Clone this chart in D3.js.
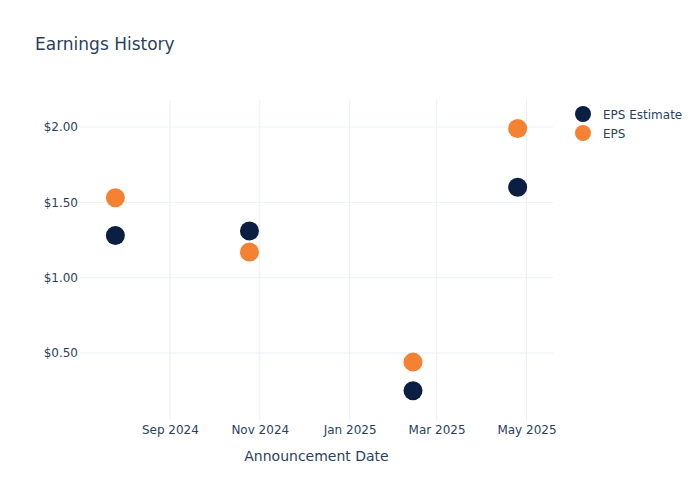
<!DOCTYPE html>
<html>
<head>
<meta charset="utf-8">
<script src="https://cdn.jsdelivr.net/npm/d3@7"></script>
<style>
  body { margin: 0; background: #fff; }
  svg text { font-family: "DejaVu Sans", Verdana, sans-serif; fill: #2a3f5f; }
  .grid line { stroke: #ebf0f8; stroke-width: 1; }
  .axis path, .axis line { display: none; }
</style>
</head>
<body>
<div id="chart"></div>
<script>
// announcement dates and values
var dates = ["2024-07-26", "2024-10-25", "2025-02-13", "2025-04-25"];
var epsEstimate = [1.28, 1.31, 0.25, 1.60];
var epsActual = [1.53, 1.17, 0.44, 1.99];
var seriesNames = ["EPS Estimate", "EPS"];
var seriesColors = ["#0b1f42", "#f58233"];
var yTicks = [0.5, 1.0, 1.5, 2.0];

var parseDate = d3.timeParse("%Y-%m-%d");

var width = 700, height = 500;
var margin = { top: 100, right: 147, bottom: 80, left: 80 };
var innerW = width - margin.left - margin.right,
    innerH = height - margin.top - margin.bottom;

var svg = d3.select("#chart").append("svg")
    .attr("width", width)
    .attr("height", height);

var g = svg.append("g")
    .attr("transform", "translate(" + margin.left + "," + margin.top + ")");

var xScale = d3.scaleTime()
    .domain([parseDate("2024-07-02"), parseDate("2025-05-19")])
    .range([0, innerW]);

var yScale = d3.scaleLinear()
    .domain([0.056, 2.179])
    .range([innerH, 0]);

var xTicks = d3.timeMonth.every(2).range(parseDate("2024-09-01"), parseDate("2025-06-01"));

// grid lines
g.append("g").attr("class", "grid")
    .selectAll("line").data(xTicks).enter()
    .append("line")
    .attr("x1", function(d) { return xScale(d); })
    .attr("x2", function(d) { return xScale(d); })
    .attr("y1", 0)
    .attr("y2", innerH);

g.append("g").attr("class", "grid")
    .selectAll("line").data(yTicks).enter()
    .append("line")
    .attr("x1", 0)
    .attr("x2", innerW)
    .attr("y1", function(d) { return yScale(d); })
    .attr("y2", function(d) { return yScale(d); });

// axes
var xAxis = d3.axisBottom(xScale)
    .tickValues(xTicks)
    .tickSize(0)
    .tickPadding(5)
    .tickFormat(d3.timeFormat("%b %Y"));

var yAxis = d3.axisLeft(yScale)
    .tickValues(yTicks)
    .tickSize(0)
    .tickPadding(2)
    .tickFormat(function(d) { return "$" + d3.format(".2f")(d); });

g.append("g")
    .attr("class", "x-axis axis")
    .attr("transform", "translate(0," + innerH + ")")
    .call(xAxis)
    .selectAll("text")
    .attr("font-size", 12)
    .style("font-family", "DejaVu Sans, sans-serif");

g.append("g")
    .attr("class", "y-axis axis")
    .call(yAxis)
    .selectAll("text")
    .attr("font-size", 12)
    .style("font-family", "DejaVu Sans, sans-serif");

// axis title
svg.append("text")
    .attr("x", margin.left + innerW / 2)
    .attr("y", 461)
    .attr("text-anchor", "middle")
    .attr("font-size", 14)
    .text("Announcement Date");

// title
svg.append("text")
    .attr("x", 35)
    .attr("y", 50)
    .attr("font-size", 17)
    .text("Earnings History");

// points
var series = [epsEstimate, epsActual];
series.forEach(function(values, i) {
    g.append("g").selectAll("circle")
        .data(values).enter()
        .append("circle")
        .attr("cx", function(d, j) { return xScale(parseDate(dates[j])); })
        .attr("cy", function(d) { return yScale(d); })
        .attr("r", 9.5)
        .attr("fill", seriesColors[i]);
});

// legend
var legend = svg.append("g")
    .attr("transform", "translate(583,114)");

var item = legend.selectAll("g").data(seriesNames).enter()
    .append("g")
    .attr("transform", function(d, i) { return "translate(0," + (i * 19) + ")"; });

item.append("circle")
    .attr("r", 8)
    .attr("fill", function(d, i) { return seriesColors[i]; });

item.append("text")
    .attr("x", 20)
    .attr("y", 4.5)
    .attr("font-size", 12)
    .text(function(d) { return d; });
</script>
</body>
</html>
